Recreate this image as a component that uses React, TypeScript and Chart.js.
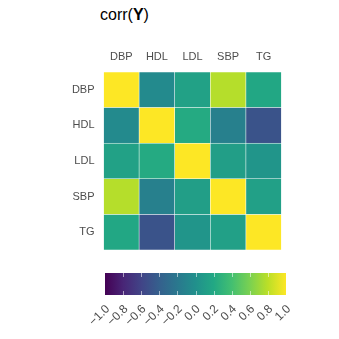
import React, { useEffect, useRef } from "react";
import { Chart, registerables } from "chart.js";

Chart.register(...registerables);

const variables = ["DBP", "HDL", "LDL", "SBP", "TG"];
const rowDBP = [1, -0.05, 0.14, 0.78, 0.19];
const rowHDL = [-0.05, 1, 0.22, -0.13, -0.49];
const rowLDL = [0.14, 0.22, 1, 0.12, 0.04];
const rowSBP = [0.78, -0.13, 0.12, 1, 0.13];
const rowTG = [0.19, -0.49, 0.04, 0.13, 1];
const corrRows = [rowDBP, rowHDL, rowLDL, rowSBP, rowTG];
const colorbarTicks = [-1, -0.8, -0.6, -0.4, -0.2, 0, 0.2, 0.4, 0.6, 0.8, 1];

const VIRIDIS = [
  "#440154", "#482576", "#414487", "#35608D", "#2A788E", "#21908C",
  "#22A884", "#43BF71", "#7AD151", "#BBDF27", "#FDE725",
];

function hexToRgb(h: string) {
  const n = parseInt(h.slice(1), 16);
  return [(n >> 16) & 255, (n >> 8) & 255, n & 255];
}

function viridis(v: number) {
  const t = Math.max(0, Math.min(1, (v + 1) / 2)) * (VIRIDIS.length - 1);
  const i = Math.min(Math.floor(t), VIRIDIS.length - 2);
  const f = t - i;
  const a = hexToRgb(VIRIDIS[i]);
  const b = hexToRgb(VIRIDIS[i + 1]);
  const c = a.map((x, k) => Math.round(x + (b[k] - x) * f));
  return `rgb(${c[0]},${c[1]},${c[2]})`;
}

const FONT = "'Liberation Sans', Arial, Helvetica, sans-serif";
const LABEL_COLOR = "#4d4d4d";

const fmt = (v: number) => {
  const s = Math.abs(v).toFixed(1);
  return v < -1e-9 ? "\u2212" + s : s;
};

export default function App() {
  const heatRef = useRef<HTMLCanvasElement>(null);
  const barRef = useRef<HTMLCanvasElement>(null);

  useEffect(() => {
    const n = variables.length;
    // bottom stack = last row (TG), top = first row (DBP)
    const datasets = corrRows
      .map((row, r) => ({
        label: variables[r],
        data: row.map(() => 1),
        backgroundColor: row.map((v) => viridis(v)),
        borderColor: "rgba(255,255,255,0.25)",
        borderWidth: 0.6,
        borderSkipped: false as const,
        barPercentage: 1,
        categoryPercentage: 1,
      }))
      .reverse();

    const heat = new Chart(heatRef.current!, {
      type: "bar",
      data: { labels: variables, datasets },
      options: {
        animation: false,
        responsive: false,
        layout: { padding: { top: 0, right: 57.5, bottom: 10, left: 0 } },
        plugins: { legend: { display: false }, tooltip: { enabled: false }, title: { display: false } },
        scales: {
          x: {
            position: "top",
            stacked: true,
            grid: { display: false, drawTicks: false },
            border: { display: false },
            ticks: { color: LABEL_COLOR, font: { family: FONT, size: 11 }, padding: 8, maxRotation: 0 },
            afterFit: (s: any) => {
              s.height = 72;
              s.paddingLeft = 0;
              s.paddingRight = 0;
            },
          },
          y: {
            stacked: true,
            min: 0,
            max: n,
            grid: { display: false, drawTicks: false },
            border: { display: false },
            afterBuildTicks: (s: any) => {
              s.ticks = variables.map((_, i) => ({ value: i + 0.5 }));
            },
            ticks: {
              color: LABEL_COLOR,
              font: { family: FONT, size: 11 },
              padding: 9,
              callback: (v: any) => variables[n - 1 - Math.floor(Number(v))],
            },
            afterFit: (s: any) => {
              s.width = 103.5;
              s.paddingTop = 0;
              s.paddingBottom = 0;
            },
          },
        },
      },
    });

    const tickMarks = {
      id: "tickMarks",
      afterDatasetsDraw(chart: any) {
        const { ctx, chartArea, scales } = chart;
        ctx.save();
        ctx.strokeStyle = "rgba(255,255,255,0.55)";
        ctx.lineWidth = 1;
        colorbarTicks.slice(1, -1).forEach((t) => {
          const x = Math.round(scales.x.getPixelForValue(t)) + 0.5;
          ctx.beginPath();
          ctx.moveTo(x, chartArea.top);
          ctx.lineTo(x, chartArea.top + 4);
          ctx.moveTo(x, chartArea.bottom - 4);
          ctx.lineTo(x, chartArea.bottom);
          ctx.stroke();
        });
        ctx.restore();
      },
    };

    const bar = new Chart(barRef.current!, {
      type: "bar",
      data: {
        labels: ["r"],
        datasets: [
          {
            data: [[colorbarTicks[0], colorbarTicks[colorbarTicks.length - 1]]] as any,
            backgroundColor: (c: any) => {
              const area = c.chart.chartArea;
              if (!area) return VIRIDIS[5];
              const g = c.chart.ctx.createLinearGradient(area.left, 0, area.right, 0);
              VIRIDIS.forEach((col, i) => g.addColorStop(i / (VIRIDIS.length - 1), col));
              return g;
            },
            borderWidth: 0,
            barPercentage: 1,
            categoryPercentage: 1,
          },
        ],
      },
      options: {
        animation: false,
        responsive: false,
        indexAxis: "y",
        layout: { padding: { top: 13, right: 53, bottom: 0, left: 105 } },
        plugins: { legend: { display: false }, tooltip: { enabled: false } },
        scales: {
          y: { display: false },
          x: {
            min: -1,
            max: 1,
            grid: { display: false, drawTicks: false },
            border: { display: false },
            afterBuildTicks: (s: any) => {
              s.ticks = colorbarTicks.map((v) => ({ value: v }));
            },
            ticks: {
              color: LABEL_COLOR,
              font: { family: FONT, size: 12 },
              padding: 7,
              labelOffset: 3,
              minRotation: 45,
              maxRotation: 45,
              autoSkip: false,
              callback: (v: any) => fmt(Number(v)),
            },
            afterFit: (s: any) => {
              s.height = 44;
              s.paddingLeft = 0;
              s.paddingRight = 0;
            },
          },
        },
      },
      plugins: [tickMarks],
    });

    return () => {
      heat.destroy();
      bar.destroy();
    };
  }, []);

  return (
    <div style={{ position: "absolute", left: 0, top: 0, width: 339, height: 339, background: "#fff" }}>
      <div
        style={{
          position: "absolute",
          left: 100,
          top: 6,
          fontFamily: FONT,
          fontSize: 16,
          color: "#000",
          lineHeight: "normal",
          whiteSpace: "nowrap",
        }}
      >
        corr(<b>Y</b>)
      </div>
      <canvas ref={heatRef} width={339} height={260} style={{ position: "absolute", left: 0, top: 0 }} />
      <canvas ref={barRef} width={339} height={79} style={{ position: "absolute", left: 0, top: 260 }} />
    </div>
  );
}
